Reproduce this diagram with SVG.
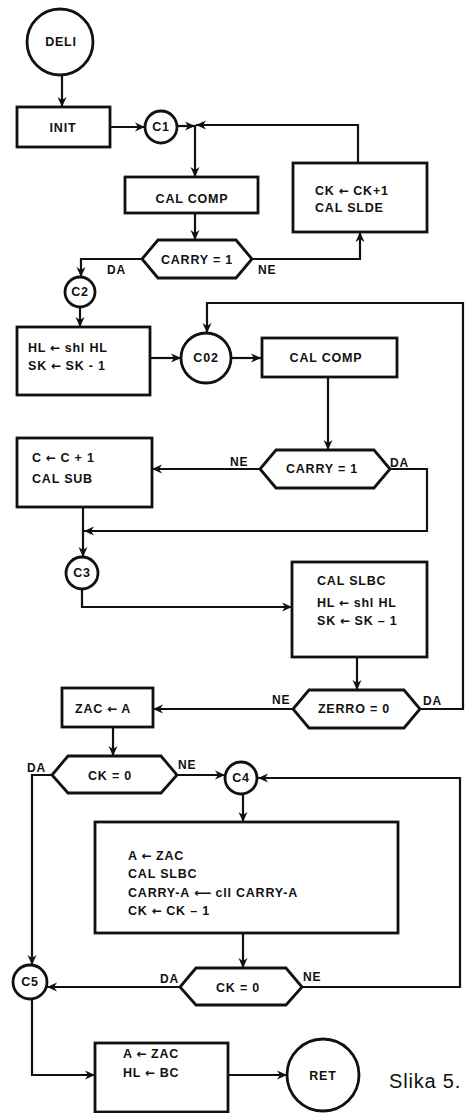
<svg xmlns="http://www.w3.org/2000/svg" width="466" height="1113" viewBox="0 0 466 1113">
<defs>
<style>
.s{fill:#fff;stroke:#111;stroke-width:2.8}
.c{fill:none;stroke:#111;stroke-width:2.2}
text{font-family:"Liberation Sans",Arial,sans-serif;font-weight:bold;font-size:12.5px;fill:#111;letter-spacing:0.8px}
.m{text-anchor:middle}
.lbl{font-size:12px}
.ar{font-family:"DejaVu Sans",sans-serif;font-size:12px;letter-spacing:0}
.cap{font-weight:normal;font-size:20px;letter-spacing:0.8px}
</style>
<marker id="a" viewBox="0 0 10 10" refX="10" refY="5" markerWidth="10" markerHeight="10" markerUnits="userSpaceOnUse" orient="auto">
<path d="M0,0.5 L10,5 L0,9.5 L3,5 z" fill="#111"/>
</marker>
</defs>
<rect width="466" height="1113" fill="#fff"/>
<g id="connectors">
<path class="c" d="M62,75 V107" marker-end="url(#a)"/>
<path class="c" d="M110,127 H145" marker-end="url(#a)"/>
<path class="c" d="M177,126 H195" marker-end="url(#a)"/>
<path class="c" d="M358,163 V125 H196" marker-end="url(#a)"/>
<path class="c" d="M195,125 V177" marker-end="url(#a)"/>
<path class="c" d="M195,213 V240" marker-end="url(#a)"/>
<path class="c" d="M142,259 H81 V277" marker-end="url(#a)"/>
<path class="c" d="M252,259 H360 V232" marker-end="url(#a)"/>
<path class="c" d="M80,307 V327" marker-end="url(#a)"/>
<path class="c" d="M150,358 H181" marker-end="url(#a)"/>
<path class="c" d="M231,358 H261" marker-end="url(#a)"/>
<path class="c" d="M328,377 V450" marker-end="url(#a)"/>
<path class="c" d="M260,469 H152" marker-end="url(#a)"/>
<path class="c" d="M390,469 H427 V531 H84" marker-end="url(#a)"/>
<path class="c" d="M83,507 V557" marker-end="url(#a)"/>
<path class="c" d="M82,589 V607 H292" marker-end="url(#a)"/>
<path class="c" d="M357,657 V690" marker-end="url(#a)"/>
<path class="c" d="M293,709 H153" marker-end="url(#a)"/>
<path class="c" d="M420,709 H463 V303 H207 V333" marker-end="url(#a)"/>
<path class="c" d="M113,727 V756" marker-end="url(#a)"/>
<path class="c" d="M52,775 H32 V965" marker-end="url(#a)"/>
<path class="c" d="M177,775 H225" marker-end="url(#a)"/>
<path class="c" d="M243,794 V822" marker-end="url(#a)"/>
<path class="c" d="M243,933 V968" marker-end="url(#a)"/>
<path class="c" d="M180,987 H47" marker-end="url(#a)"/>
<path class="c" d="M302,987 H460 V778 H258" marker-end="url(#a)"/>
<path class="c" d="M32,999 V1075 H95" marker-end="url(#a)"/>
<path class="c" d="M228,1075 H287" marker-end="url(#a)"/>
</g>
<g id="labels">
<text class="lbl" x="107" y="274">DA</text>
<text class="lbl" x="258" y="274">NE</text>
<text class="lbl" x="230" y="466">NE</text>
<text class="lbl" x="390" y="467">DA</text>
<text class="lbl" x="272" y="704">NE</text>
<text class="lbl" x="423" y="705">DA</text>
<text class="lbl" x="27" y="772">DA</text>
<text class="lbl" x="178" y="769">NE</text>
<text class="lbl" x="160" y="983">DA</text>
<text class="lbl" x="303" y="981">NE</text>
</g>
<g id="deli"><circle class="s" cx="60" cy="42" r="33"/><text class="m" x="61" y="46">DELI</text></g>
<g id="init"><rect class="s" x="17" y="107" width="93" height="40"/><text class="m" x="63" y="132">INIT</text></g>
<g id="c1"><circle class="s" cx="161" cy="127" r="16"/><text class="m" x="161" y="131">C1</text></g>
<g id="calcomp1"><rect class="s" x="125" y="177" width="133" height="36"/><text class="m" x="192" y="203">CAL COMP</text></g>
<g id="ckinc"><rect class="s" x="293" y="163" width="134" height="69"/><text x="315" y="195">CK <tspan class="ar">←</tspan> CK+1</text><text x="315" y="212">CAL SLDE</text></g>
<g id="carry1"><polygon class="s" points="158,240 236,240 252,259 236,278 158,278 142,259"/><text class="m" x="197" y="264">CARRY = 1</text></g>
<g id="c2"><circle class="s" cx="80" cy="292" r="15"/><text class="m" x="80" y="296">C2</text></g>
<g id="hlshl"><rect class="s" x="17" y="327" width="133" height="68"/><text x="28" y="352">HL <tspan class="ar">←</tspan> shl HL</text><text x="28" y="370">SK <tspan class="ar">←</tspan> SK - 1</text></g>
<g id="c02"><circle class="s" cx="206" cy="358" r="25"/><text class="m" x="206" y="362">C02</text></g>
<g id="calcomp2"><rect class="s" x="262" y="338" width="135" height="39"/><text class="m" x="326" y="362">CAL COMP</text></g>
<g id="carry2"><polygon class="s" points="276,450 374,450 390,469 374,488 276,488 260,469"/><text class="m" x="322" y="473">CARRY = 1</text></g>
<g id="cinc"><rect class="s" x="17" y="438" width="135" height="69"/><text x="32" y="462">C <tspan class="ar">←</tspan> C + 1</text><text x="32" y="483">CAL SUB</text></g>
<g id="c3"><circle class="s" cx="82" cy="573" r="16"/><text class="m" x="82" y="577">C3</text></g>
<g id="slbc"><rect class="s" x="292" y="562" width="135" height="95"/><text x="317" y="585">CAL SLBC</text><text x="317" y="607">HL <tspan class="ar">←</tspan> shl HL</text><text x="317" y="625">SK <tspan class="ar">←</tspan> SK – 1</text></g>
<g id="zerro"><polygon class="s" points="309,690 404,690 420,709 404,728 309,728 293,709"/><text class="m" x="354" y="713">ZERRO = 0</text></g>
<g id="zac"><rect class="s" x="62" y="688" width="91" height="39"/><text x="75" y="713">ZAC <tspan class="ar">←</tspan> A</text></g>
<g id="ck0a"><polygon class="s" points="68,756 161,756 177,775 161,793 68,793 52,775"/><text class="m" x="110" y="780">CK = 0</text></g>
<g id="c4"><circle class="s" cx="241" cy="778" r="16"/><text class="m" x="241" y="782">C4</text></g>
<g id="loopbody"><rect class="s" x="95" y="822" width="303" height="111"/><text x="128" y="860">A <tspan class="ar">←</tspan> ZAC</text><text x="128" y="878">CAL SLBC</text><text x="128" y="897">CARRY-A <tspan class="ar">⟵</tspan> cll CARRY-A</text><text x="128" y="915">CK <tspan class="ar">←</tspan> CK – 1</text></g>
<g id="ck0b"><polygon class="s" points="196,968 286,968 302,987 286,1005 196,1005 180,987"/><text class="m" x="238" y="992">CK = 0</text></g>
<g id="c5"><circle class="s" cx="30" cy="982" r="17"/><text class="m" x="30" y="986">C5</text></g>
<g id="final"><rect class="s" x="95" y="1043" width="133" height="69"/><text x="123" y="1058">A <tspan class="ar">←</tspan> ZAC</text><text x="123" y="1077">HL <tspan class="ar">←</tspan> BC</text></g>
<g id="ret"><circle class="s" cx="323" cy="1075" r="36"/><text class="m" x="323" y="1080">RET</text></g>
<text class="cap" x="389" y="1088">Slika 5.</text>
</svg>
